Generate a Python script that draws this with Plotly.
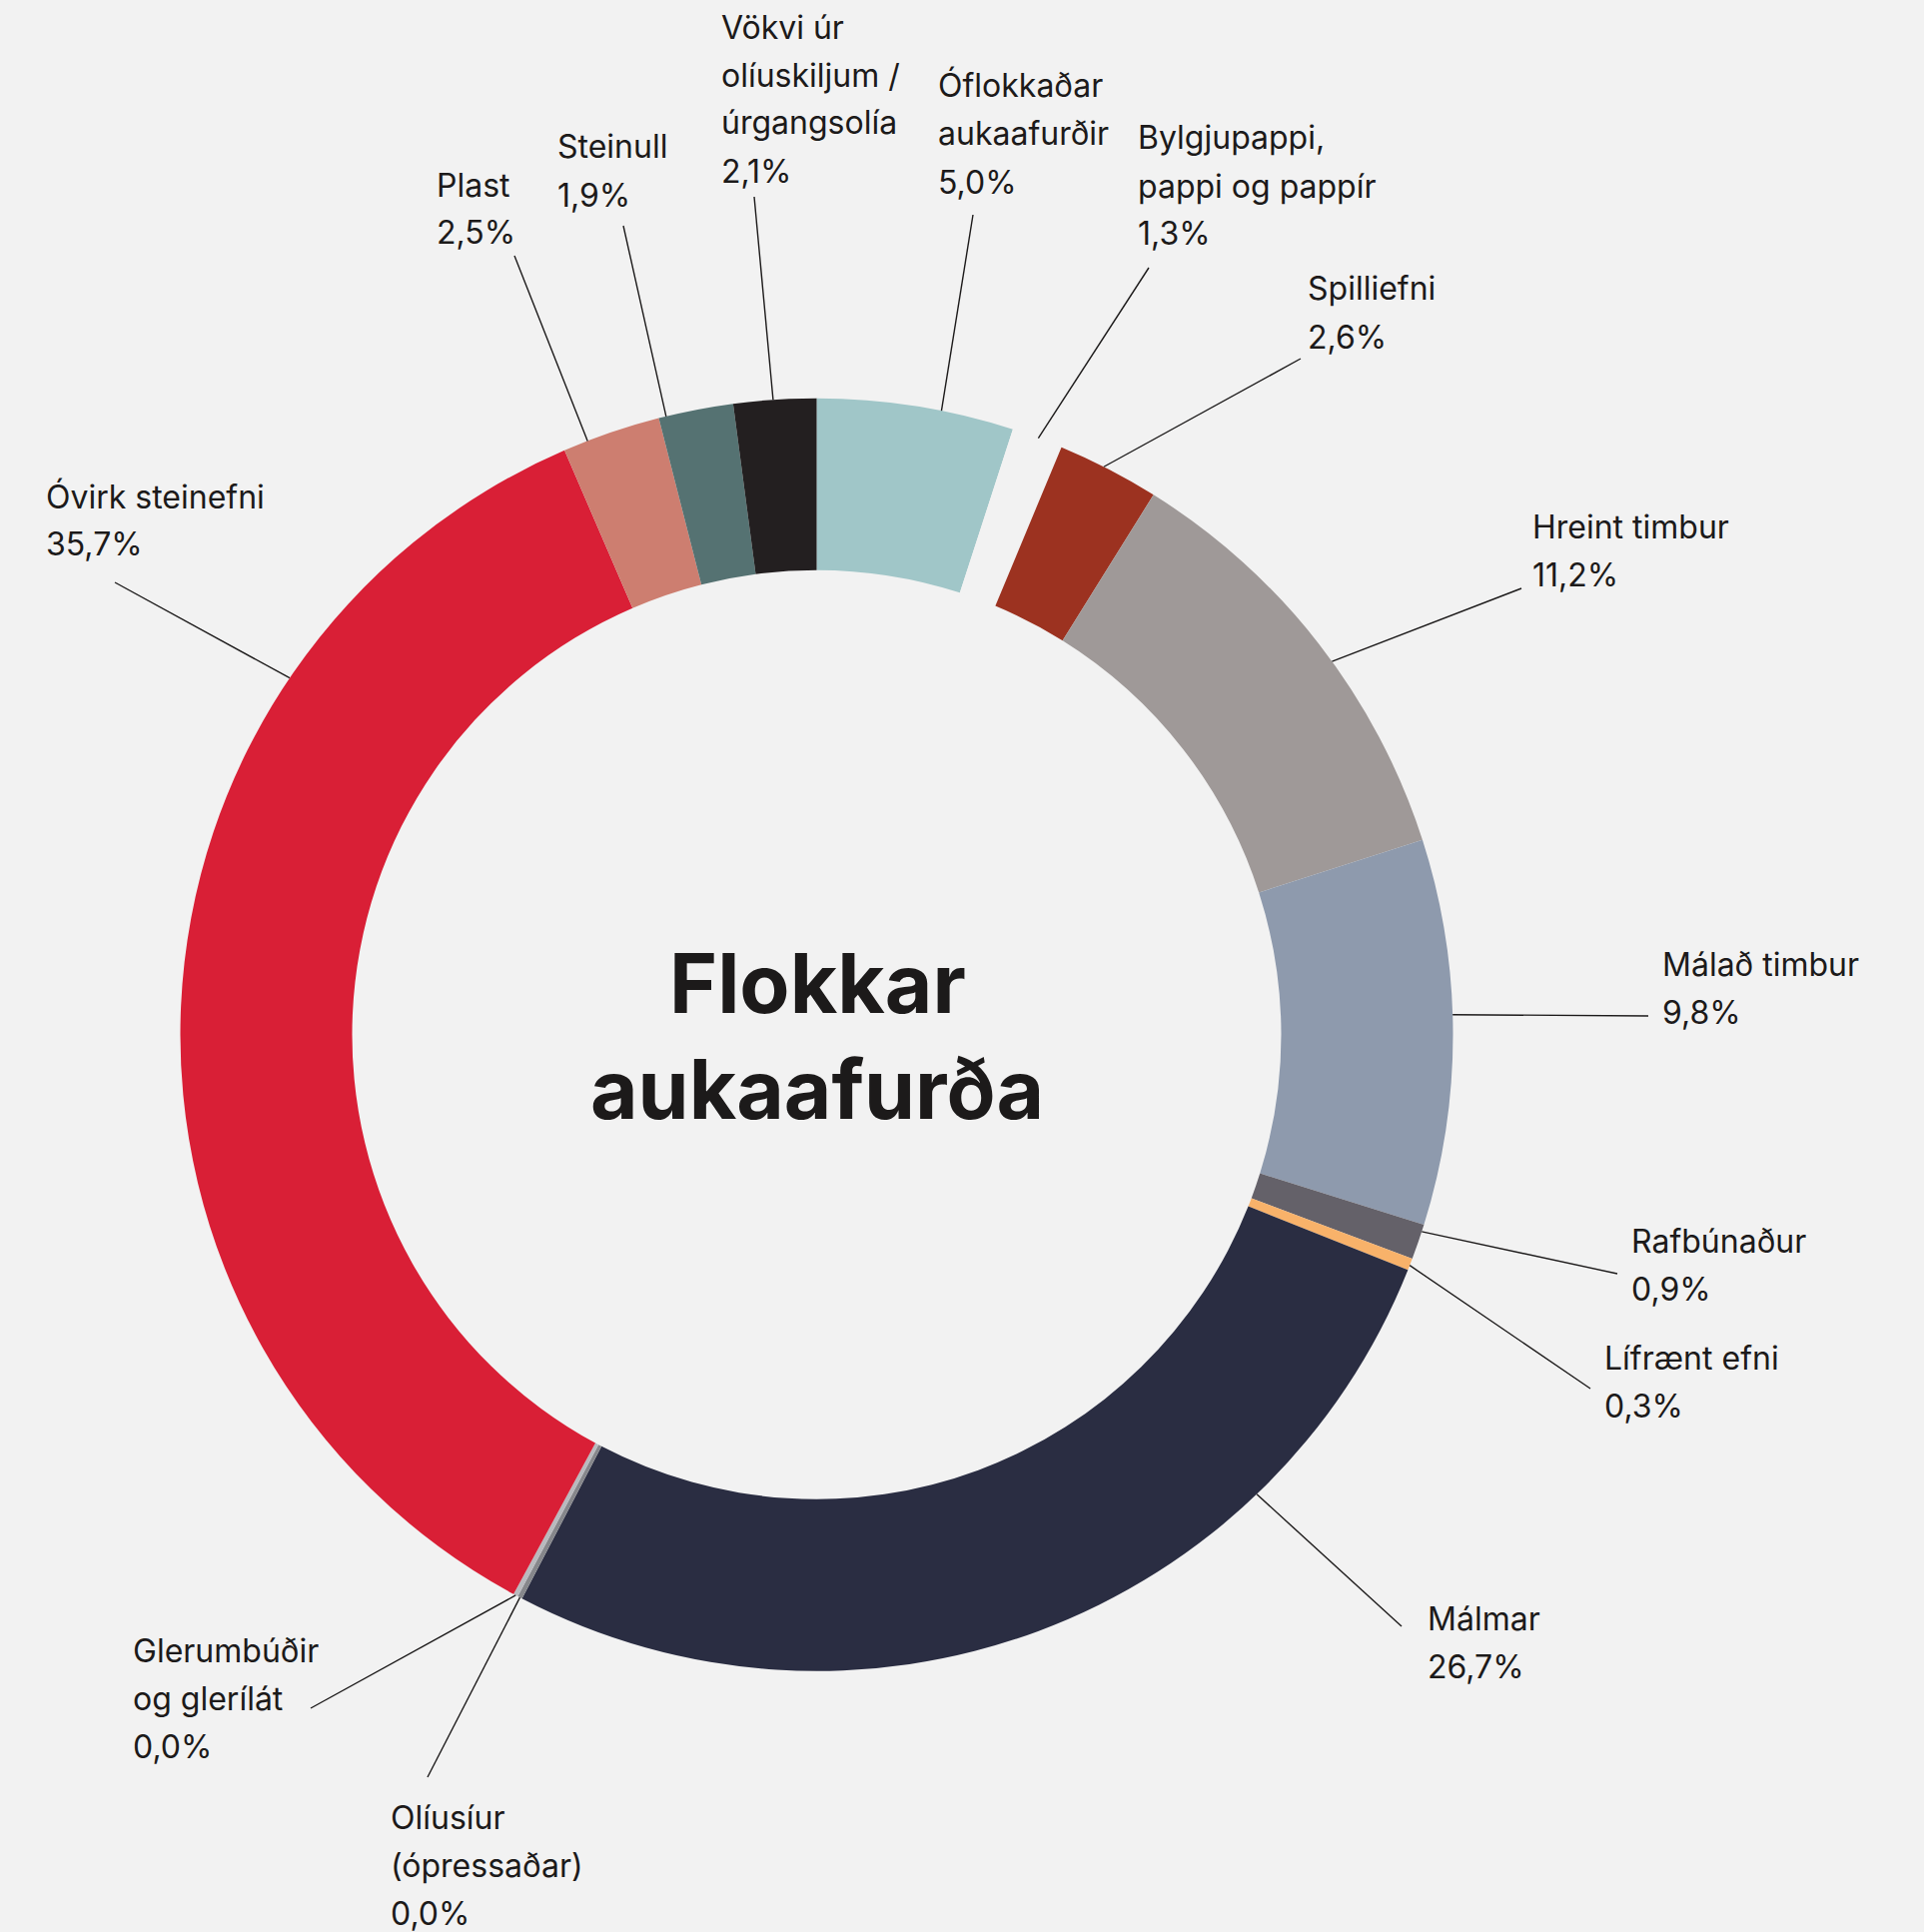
import math
import plotly.graph_objects as go

W, H = 1926, 1934
BG = "#f2f2f2"
INK = "#1c1a1a"

# ---- data (clockwise from 12 o'clock) ----
categories = [
    "Óflokkaðar aukaafurðir", "Bylgjupappi, pappi og pappír", "Spilliefni",
    "Hreint timbur", "Málað timbur", "Rafbúnaður", "Lífrænt efni", "Málmar",
    "Olíusíur (ópressaðar)", "Glerumbúðir og glerílát", "Óvirk steinefni",
    "Plast", "Steinull", "Vökvi úr olíuskiljum / úrgangsolía",
]
# slice sizes (the two 0,0% categories show as thin slivers)
values = [5.0, 1.3, 2.6, 11.2, 9.8, 0.9, 0.3, 26.7, 0.12, 0.12, 35.7, 2.5, 1.9, 2.1]
# percentages as printed on the chart
printed_pct = ["5,0%", "1,3%", "2,6%", "11,2%", "9,8%", "0,9%", "0,3%", "26,7%",
               "0,0%", "0,0%", "35,7%", "2,5%", "1,9%", "2,1%"]
# label line breaks as in the chart
label_lines = [
    ["Óflokkaðar", "aukaafurðir"], ["Bylgjupappi,", "pappi og pappír"], ["Spilliefni"],
    ["Hreint timbur"], ["Málað timbur"], ["Rafbúnaður"], ["Lífrænt efni"], ["Málmar"],
    ["Olíusíur", "(ópressaðar)"], ["Glerumbúðir", "og glerílát"], ["Óvirk steinefni"],
    ["Plast"], ["Steinull"], ["Vökvi úr", "olíuskiljum /", "úrgangsolía"],
]
title_lines = ["Flokkar", "aukaafurða"]

# ---- styles / layout ----
colors = ["#a0c6c8", BG, "#9c3220", "#9f9998", "#8e9aad", "#646169", "#f8b26a",
          "#2a2d42", "#86878b", "#b9babe", "#d91f36", "#cd7e70", "#557272", "#231f20"]
CX, CY, R_OUT, R_IN = 817.5, 1035.7, 637.0, 465.0
# label text anchor: left x, centre y of first line (pixels)
label_pos = [(937, 86), (1137, 138), (1307, 289), (1532, 528), (1662, 965),
             (1631, 1242), (1604, 1359), (1427, 1620), (389, 1819), (131, 1652),
             (44, 497), (435, 185), (556, 147), (720, 27)]
# outer end of each leader line (pixels)
leader_end = [(974, 215), (1150, 268), (1302, 359), (1523, 589), (1650, 1017),
              (1619, 1275), (1592, 1390), (1403, 1628), (428, 1779), (311, 1710),
              (115, 583), (515, 256), (624, 226), (755, 197)]
# where the leader touches the ring, as fraction across the slice (clockwise)
attach_frac = [0.63, 0.52, 0.45, 0.55, 0.455, 0.2, 0.6, 0.256, 0.5, 0.5, 0.746, 0.25, 0.1, 0.48]
LINE_STEP = 48
LABEL_SIZE = 32
TITLE_SIZE = 82
FONT = "Inter, Roboto, sans-serif"


def px(x):
    return x / W


def py(y):
    return 1 - y / H


fig = go.Figure(go.Pie(
    labels=categories, values=values, sort=False, direction="clockwise",
    rotation=0, hole=R_IN / R_OUT, textinfo="none", hoverinfo="label+percent",
    marker=dict(colors=colors, line=dict(width=0)),
    domain=dict(x=[px(CX - R_OUT), px(CX + R_OUT)], y=[py(CY + R_OUT), py(CY - R_OUT)]),
    showlegend=False,
))

total = sum(values)
annotations = []
shapes = []
cum = 0.0
for i, v in enumerate(values):
    a = (cum + attach_frac[i] * v) / total * 2 * math.pi
    cum += v
    sx = CX + R_OUT * math.sin(a)
    sy = CY - R_OUT * math.cos(a)
    ex, ey = leader_end[i]
    shapes.append(dict(type="line", xref="paper", yref="paper",
                       x0=px(sx), y0=py(sy), x1=px(ex), y1=py(ey),
                       line=dict(color=INK, width=1.4)))
    lx, ly = label_pos[i]
    for j, t in enumerate(label_lines[i] + [printed_pct[i]]):
        annotations.append(dict(text=t, x=px(lx), y=py(ly + j * LINE_STEP),
                                xref="paper", yref="paper", xanchor="left", yanchor="middle",
                                showarrow=False,
                                font=dict(family=FONT, size=LABEL_SIZE, color=INK)))

for j, t in enumerate(title_lines):
    annotations.append(dict(text=f"<b>{t}</b>", x=px(818), y=py(984 + j * 106),
                            xref="paper", yref="paper", xanchor="center", yanchor="middle",
                            showarrow=False,
                            font=dict(family=FONT, size=TITLE_SIZE, color=INK)))

fig.update_layout(
    width=W, height=H, margin=dict(l=0, r=0, t=0, b=0),
    paper_bgcolor=BG, plot_bgcolor=BG,
    annotations=annotations, shapes=shapes,
)
fig.write_html(
    "out.html",
    config={"displayModeBar": False},
    post_script="document.body.style.margin='0';document.body.style.background='#f2f2f2';"
                "document.documentElement.style.overflow='hidden';",
)
